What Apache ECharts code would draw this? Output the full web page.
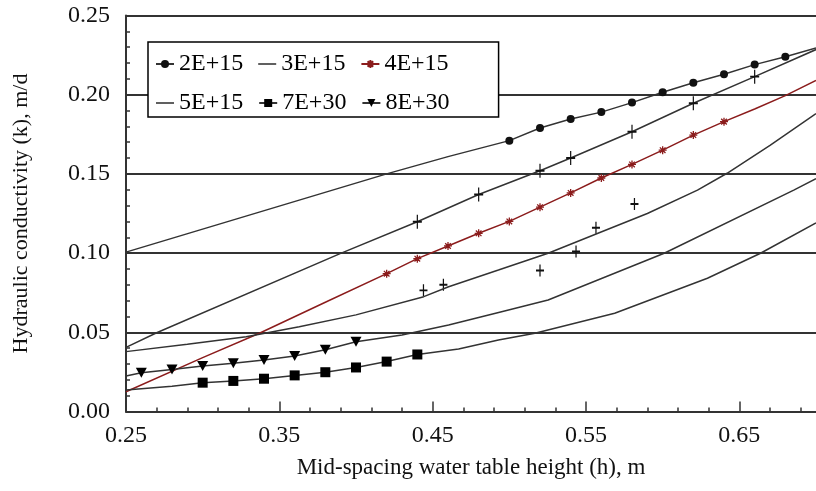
<!DOCTYPE html>
<html><head><meta charset="utf-8">
<script src="https://cdn.jsdelivr.net/npm/echarts@6/dist/echarts.min.js"></script>
<style>html,body{margin:0;padding:0;background:#fff}#c{width:816px;height:491px}</style>
</head><body><div id="c"></div>
<script>
// ---- axis ticks ----
const xMajorTicks = [0.25, 0.35, 0.45, 0.55, 0.65];
const xMinorTicks = [0.25,0.27,0.29,0.31,0.33,0.35,0.37,0.39,0.41,0.43,0.45,0.47,0.49,0.51,0.53,0.55,0.57,0.59,0.61,0.63,0.65,0.67,0.69];
const seriesNames = ['2E+15', '3E+15', '4E+15', '5E+15', '7E+30', '8E+30'];

// ---- series values (x = h, y = k); m = 1 where a marker is drawn ----
const x2E15 = [0.25, 0.42, 0.46, 0.50, 0.52, 0.54, 0.56, 0.58, 0.60, 0.62, 0.64, 0.66, 0.68, 0.70];
const y2E15 = [0.1006, 0.150, 0.1609, 0.171, 0.179, 0.1847, 0.189, 0.195, 0.2015, 0.2076, 0.2129, 0.219, 0.224, 0.2295];
const m2E15 = [0, 0, 0, 1, 1, 1, 1, 1, 1, 1, 1, 1, 1, 0];

const x3E15 = [0.25, 0.27, 0.39, 0.44, 0.48, 0.52, 0.54, 0.58, 0.62, 0.66, 0.70];
const y3E15 = [0.0405, 0.0497, 0.0998, 0.1198, 0.137, 0.152, 0.160, 0.1766, 0.1946, 0.2114, 0.2285];
const m3E15 = [0, 0, 0, 1, 1, 1, 1, 1, 1, 1, 0];

const x4E15 = [0.25, 0.30, 0.337, 0.38, 0.42, 0.44, 0.46, 0.48, 0.50, 0.52, 0.54, 0.56, 0.58, 0.60, 0.62, 0.64, 0.66, 0.68, 0.70];
const y4E15 = [0.0125, 0.034, 0.0494, 0.069, 0.087, 0.0965, 0.1045, 0.1125, 0.120, 0.129, 0.138, 0.1474, 0.156, 0.165, 0.1745, 0.183, 0.191, 0.1994, 0.209];
const m4E15 = [0, 0, 0, 0, 1, 1, 1, 1, 1, 1, 1, 1, 1, 1, 1, 1, 0, 0, 0];

const x5E15 = [0.25, 0.29, 0.3284, 0.363, 0.40, 0.4442, 0.4604, 0.4929, 0.5253, 0.5578, 0.59, 0.6227, 0.642, 0.67, 0.70];
const y5E15 = [0.0378, 0.0425, 0.0472, 0.0535, 0.061, 0.0725, 0.0788, 0.0893, 0.0999, 0.1125, 0.125, 0.1398, 0.1504, 0.168, 0.188];
const x5E15pts = [0.444, 0.457, 0.52, 0.5435, 0.5565, 0.5816];
const y5E15pts = [0.0765, 0.080, 0.089, 0.101, 0.116, 0.131];

const x7E30 = [0.25, 0.28, 0.30, 0.32, 0.34, 0.36, 0.38, 0.40, 0.42, 0.44, 0.4669, 0.4929, 0.5167, 0.5687, 0.6292, 0.6638, 0.70];
const y7E30 = [0.0136, 0.0160, 0.0182, 0.0193, 0.0207, 0.0228, 0.0248, 0.0278, 0.0315, 0.036, 0.0395, 0.0451, 0.0494, 0.062, 0.0841, 0.0999, 0.119];
const m7E30 = [0, 0, 1, 1, 1, 1, 1, 1, 1, 1, 0, 0, 0, 0, 0, 0, 0];

const x8E30 = [0.25, 0.26, 0.28, 0.30, 0.32, 0.34, 0.36, 0.38, 0.40, 0.43, 0.4604, 0.493, 0.5253, 0.601, 0.6855, 0.70];
const y8E30 = [0.0224, 0.0245, 0.0265, 0.0288, 0.0304, 0.0325, 0.035, 0.039, 0.044, 0.0483, 0.0546, 0.0625, 0.0704, 0.0999, 0.1398, 0.147];
const m8E30 = [0, 1, 1, 1, 1, 1, 1, 1, 1, 0, 0, 0, 0, 0, 0, 0];

// ---- helpers ----
function pts(xs, ys, ms) {
  return xs.map((x, i) => (ms && ms[i]) ? { value: [x, ys[i]] } : { value: [x, ys[i]], symbol: 'none' });
}
const FONT = 'Liberation Serif';
const INK = '#333';
const RED = '#8b1c1c';
const PLUS = 'path://M5,0 L5,14 M0,7 L10,7';
const STAR = 'path://M5,0 L5,10 M0,5 L10,5 M1.5,1.5 L8.5,8.5 M8.5,1.5 L1.5,8.5';
const DASH = 'path://M0,0 L20,0 L20,1.6 L0,1.6 Z';

const chart = echarts.init(document.getElementById('c'), null, { renderer: 'canvas' });
chart.setOption({
  animation: false,
  backgroundColor: '#fff',
  grid: { left: 126, right: -3, top: 15.5, bottom: 79.5, containLabel: false },
  legend: {
    left: 148, top: 42, width: 300, orient: 'horizontal',
    itemWidth: 18, itemHeight: 10, itemGap: 15,
    padding: [10, 49, 2, 7],
    borderColor: '#000', borderWidth: 1.5, backgroundColor: '#fff',
    textStyle: { fontFamily: FONT, fontSize: 24, lineHeight: 20, color: '#000' },
    data: [
      { name: seriesNames[0] },
      { name: seriesNames[1], icon: DASH, itemStyle: { color: '#222', borderWidth: 0 } },
      { name: seriesNames[2] },
      { name: seriesNames[3], icon: DASH, itemStyle: { color: '#222', borderWidth: 0 } },
      { name: seriesNames[4] },
      { name: seriesNames[5] }
    ]
  },
  xAxis: [
    {
      type: 'value', min: 0.25, max: 0.70, position: 'bottom',
      axisLine: { show: true, lineStyle: { color: INK, width: 2 } },
      axisTick: { show: true, inside: true, length: 10, customValues: xMajorTicks, lineStyle: { color: INK, width: 1.5 } },
      axisLabel: { customValues: xMajorTicks, formatter: v => v.toFixed(2), fontFamily: FONT, fontSize: 24, color: '#111', margin: 12 },
      splitLine: { show: false },
      name: 'Mid-spacing water table height (h), m', nameLocation: 'middle', nameGap: 45,
      nameTextStyle: { fontFamily: FONT, fontSize: 23, color: '#111' }
    },
    {
      type: 'value', min: 0.25, max: 0.70, position: 'bottom',
      axisLine: { show: false },
      axisTick: { show: true, inside: true, length: 4, customValues: xMinorTicks, lineStyle: { color: INK, width: 1.5 } },
      axisLabel: { show: false },
      splitLine: { show: false }
    }
  ],
  yAxis: {
    type: 'value', min: 0, max: 0.25, interval: 0.05,
    axisLine: { show: true, lineStyle: { color: INK, width: 2 } },
    axisTick: { show: true, inside: true, length: 4, lineStyle: { color: INK, width: 1.5 } },
    minorTick: { show: true, splitNumber: 5, length: 4, lineStyle: { color: INK, width: 1.5 } },
    splitLine: { show: true, lineStyle: { color: INK, width: 2 } },
    axisLabel: { formatter: v => v.toFixed(2), fontFamily: FONT, fontSize: 24, color: '#111', margin: 16 },
    name: 'Hydraulic conductivity (k), m/d', nameLocation: 'middle', nameGap: 94,
    nameTextStyle: { fontFamily: FONT, fontSize: 22, color: '#111' }
  },
  series: [
    {
      name: seriesNames[0], type: 'line', data: pts(x2E15, y2E15, m2E15),
      symbol: 'circle', symbolSize: 8,
      itemStyle: { color: '#111' }, lineStyle: { color: INK, width: 1.5 }
    },
    {
      name: seriesNames[1], type: 'line', data: pts(x3E15, y3E15, m3E15),
      symbol: PLUS, symbolSize: [9, 14],
      itemStyle: { color: '#111', borderColor: '#111', borderWidth: 1.5 }, lineStyle: { color: INK, width: 1.5 }
    },
    {
      name: seriesNames[2], type: 'line', data: pts(x4E15, y4E15, m4E15),
      symbol: STAR, symbolSize: 8,
      itemStyle: { color: RED, borderColor: RED, borderWidth: 1.3 }, lineStyle: { color: RED, width: 1.5 }
    },
    {
      name: seriesNames[3], type: 'line', data: pts(x5E15, y5E15, null),
      symbol: 'none',
      itemStyle: { color: '#111' }, lineStyle: { color: INK, width: 1.5 }
    },
    {
      name: seriesNames[3], type: 'scatter', data: x5E15pts.map((x, i) => [x, y5E15pts[i]]),
      symbol: PLUS, symbolSize: [8, 12],
      itemStyle: { color: '#111', borderColor: '#111', borderWidth: 1.5, opacity: 1 }
    },
    {
      name: seriesNames[4], type: 'line', data: pts(x7E30, y7E30, m7E30),
      symbol: 'rect', symbolSize: 10,
      itemStyle: { color: '#000' }, lineStyle: { color: INK, width: 1.5 }
    },
    {
      name: seriesNames[5], type: 'line', data: pts(x8E30, y8E30, m8E30),
      symbol: 'triangle', symbolSize: [11, 10], symbolRotate: 180,
      itemStyle: { color: '#000' }, lineStyle: { color: INK, width: 1.5 }
    }
  ]
});
</script>
</body></html>
